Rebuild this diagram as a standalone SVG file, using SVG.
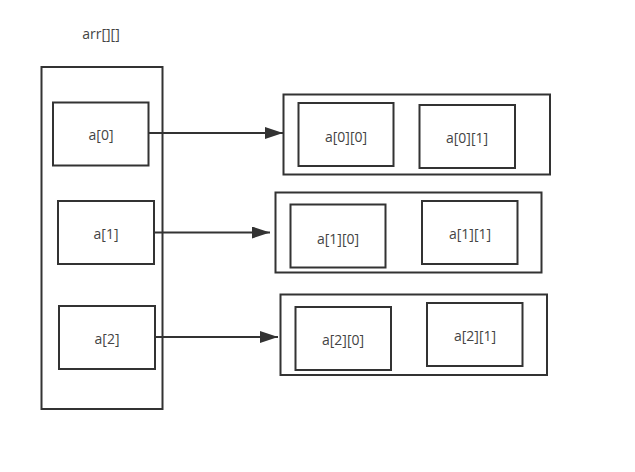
<svg xmlns="http://www.w3.org/2000/svg" width="635" height="472" viewBox="0 0 635 472">
<style>
rect{fill:none;stroke:#333;stroke-width:2}
text{font-family:"Open Sans","Liberation Sans",sans-serif;font-size:14px;fill:#444;text-anchor:middle;dominant-baseline:central}
.c{stroke:#333;stroke-width:2;fill:none}
</style>
<defs>
<marker id="ah" markerWidth="18" markerHeight="12" refX="18" refY="6" orient="auto" markerUnits="userSpaceOnUse">
<path d="M0,0 L18,6 L0,12 Z" fill="#333"/>
</marker>
</defs>
<rect width="635" height="472" style="fill:#fff;stroke:none"/>
<text x="101" y="33">arr[][]</text>
<g id="arr"><rect x="41.5" y="67" width="121" height="342"/></g>
<g id="a0"><rect x="53" y="102.5" width="95.5" height="63"/><text x="101" y="134">a[0]</text></g>
<g id="a1"><rect x="58" y="201" width="96" height="63"/><text x="106" y="233">a[1]</text></g>
<g id="a2"><rect x="59" y="306" width="96" height="63"/><text x="107" y="338">a[2]</text></g>
<g id="row0"><rect x="283.5" y="94.5" width="266.5" height="80"/>
<g id="a00"><rect x="298.5" y="103" width="95" height="63"/><text x="346" y="136">a[0][0]</text></g>
<g id="a01"><rect x="419.5" y="105" width="95.5" height="63"/><text x="467" y="137">a[0][1]</text></g></g>
<g id="row1"><rect x="275.5" y="192.5" width="266" height="80"/>
<g id="a10"><rect x="290.5" y="204.5" width="95" height="63"/><text x="338" y="238">a[1][0]</text></g>
<g id="a11"><rect x="422" y="201" width="95.5" height="63"/><text x="470" y="233">a[1][1]</text></g></g>
<g id="row2"><rect x="280.5" y="294.5" width="266.5" height="80.5"/>
<g id="a20"><rect x="295.5" y="307" width="95.5" height="63"/><text x="343" y="339">a[2][0]</text></g>
<g id="a21"><rect x="427" y="303" width="95.5" height="63"/><text x="475" y="335">a[2][1]</text></g></g>
<g id="connectors">
<line class="c" x1="148.5" y1="133" x2="283" y2="133" marker-end="url(#ah)"/>
<line class="c" x1="154" y1="232.5" x2="270" y2="232.5" marker-end="url(#ah)"/>
<line class="c" x1="155" y1="337" x2="278" y2="337" marker-end="url(#ah)"/>
</g>
</svg>
